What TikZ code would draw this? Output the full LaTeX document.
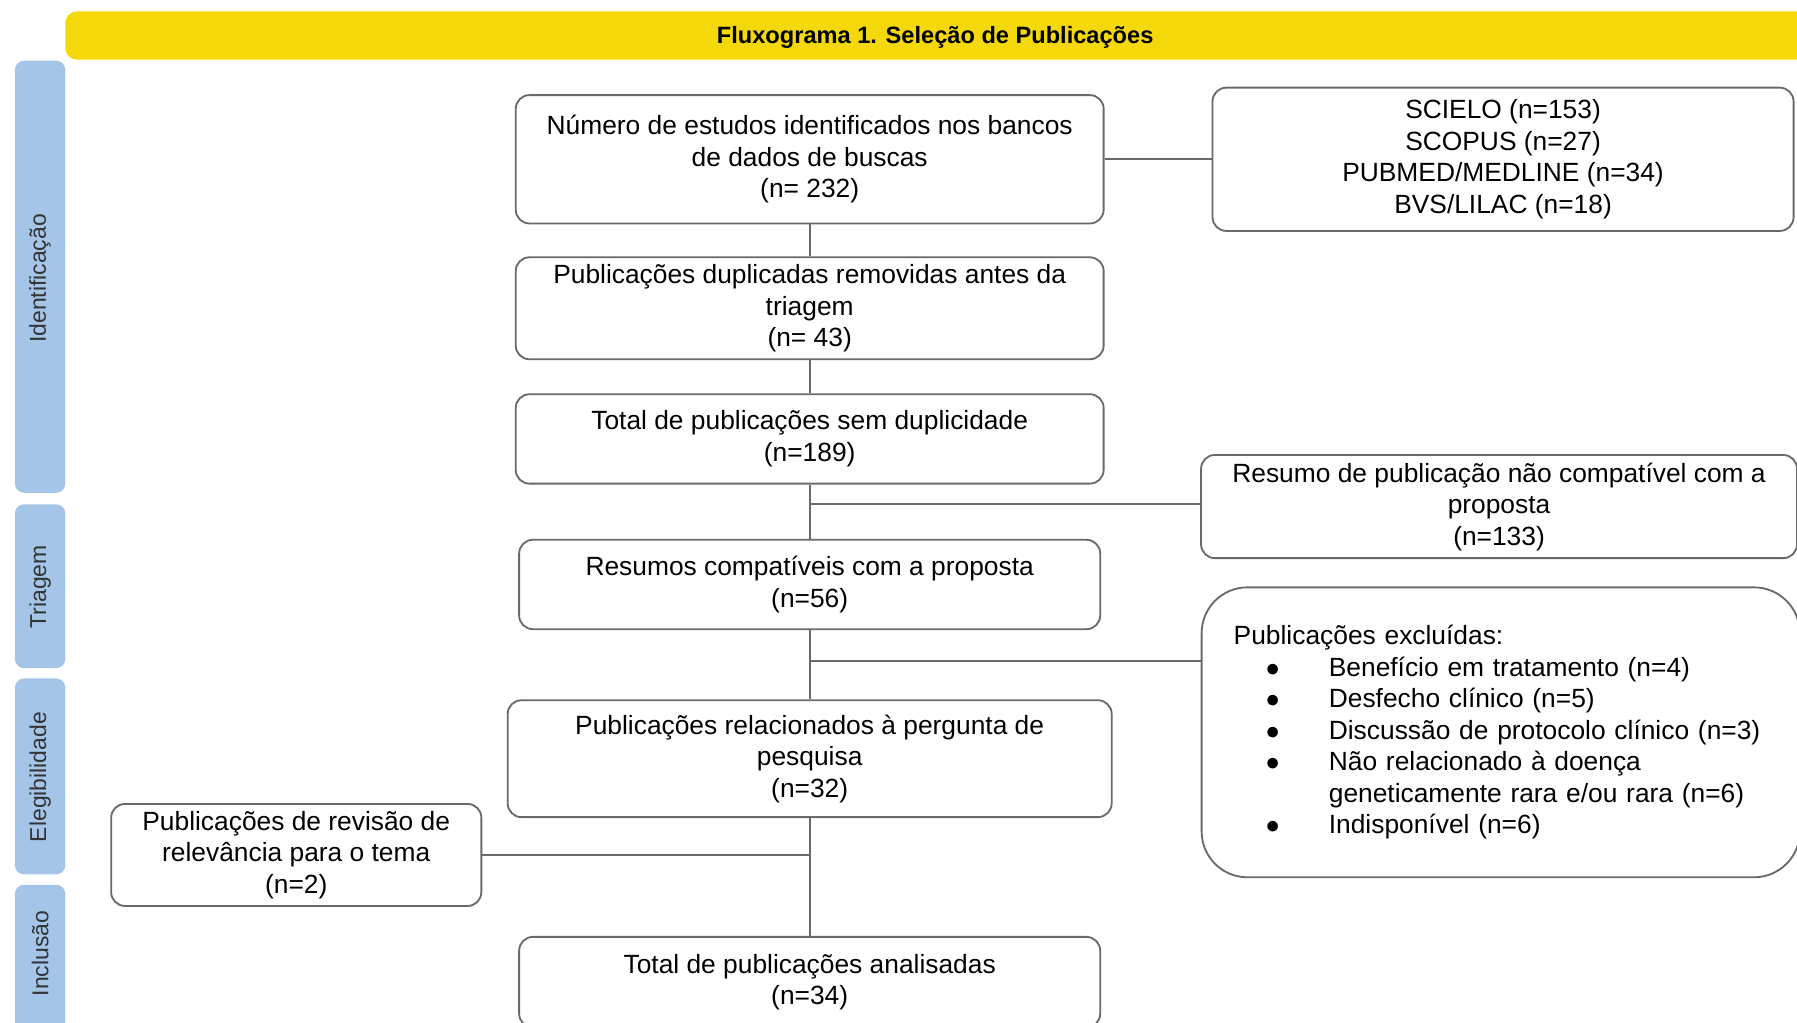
\documentclass[tikz,border=0pt]{standalone}
\usepackage{fontspec}
\setmainfont{Liberation Sans}
\usetikzlibrary{positioning}
\definecolor{barYellow}{RGB}{245,216,10}
\definecolor{tabBlue}{RGB}{164,197,232}
\definecolor{lineGray}{RGB}{105,105,105}

\begin{document}
\begin{tikzpicture}[x=0.5pt,y=-0.5pt,
    box/.style={draw=lineGray,line width=0.8pt,rounded corners=6pt,align=center,inner sep=0pt,
      font=\fontsize{11.5}{13.75}\selectfont},
    tab/.style={fill=tabBlue,rounded corners=4pt},
    tablabel/.style={rotate=90,font=\fontsize{10}{12}\selectfont,text=black!80},
    link/.style={draw=lineGray,line width=0.8pt}]
    \useasboundingbox (0,0) rectangle (1568,892);

    % header and phase tabs
    \fill[barYellow,rounded corners=5pt] (57,10) rectangle (1590,52);
    \node[font=\bfseries\fontsize{10.3}{12}\selectfont] (title) at (816,32.5) {Fluxograma 1. Seleção de Publicações};

    \fill[tab] (13,53) rectangle (57,430);
    \fill[tab] (13,440) rectangle (57,583);
    \fill[tab] (13,592) rectangle (57,763);
    \fill[tab] (13,772) rectangle (57,910);
    \node[tablabel] (idlab) at (35,243) {Identificação};
    \node[tablabel] (trlab) at (35,512) {Triagem};
    \node[tablabel] (ellab) at (35,678) {Elegibilidade};
    \node[tablabel] (inlab) at (35,832) {Inclusão};

    % main column
    \node[box,minimum width=256.5pt,minimum height=56pt] (ident) at (706.5,139) {Número de estudos identificados nos bancos\\de dados de buscas\\(n= 232)};
    \node[box,minimum width=256.5pt,minimum height=44.5pt] (dupl) at (706.5,269) {Publicações duplicadas removidas antes da\\triagem\\(n= 43)};
    \node[box,minimum width=256.5pt,minimum height=39pt] (semdup) at (706.5,383) {Total de publicações sem duplicidade\\(n=189)};
    \node[box,minimum width=253.5pt,minimum height=39pt] (compat) at (706.5,510) {Resumos compatíveis com a proposta\\(n=56)};
    \node[box,minimum width=263.5pt,minimum height=51pt] (relac) at (706.5,662) {Publicações relacionados à pergunta de\\pesquisa\\(n=32)};
    \node[box,minimum width=253.5pt,minimum height=39.5pt] (total) at (706.5,857) {Total de publicações analisadas\\(n=34)};

    % side boxes
    \node[box,minimum width=253.5pt,minimum height=62.5pt] (bases) at (1311.5,139) {SCIELO (n=153)\\SCOPUS (n=27)\\PUBMED/MEDLINE (n=34)\\BVS/LILAC (n=18)};
    \node[box,minimum width=260pt,minimum height=45pt] (naocomp) at (1308,442) {Resumo de publicação não compatível com a\\proposta\\(n=133)};
    \node[box,rounded corners=20pt,align=left,text width=233pt,minimum width=261pt,minimum height=126.5pt] (excl) at (1309.5,639) {Publicações excluídas:\\
      \hspace*{14pt}\makebox[27.5pt][l]{$\bullet$}Benefício em tratamento (n=4)\\
      \hspace*{14pt}\makebox[27.5pt][l]{$\bullet$}Desfecho clínico (n=5)\\
      \hspace*{14pt}\makebox[27.5pt][l]{$\bullet$}Discussão de protocolo clínico (n=3)\\
      \hspace*{14pt}\makebox[27.5pt][l]{$\bullet$}Não relacionado à doença\\
      \hspace*{41.5pt}geneticamente rara e/ou rara (n=6)\\
      \hspace*{14pt}\makebox[27.5pt][l]{$\bullet$}Indisponível (n=6)};
    \node[box,minimum width=161.5pt,minimum height=44.5pt] (revisao) at (258.5,746) {Publicações de revisão de\\relevância para o tema\\(n=2)};

    % connectors
    \coordinate (j1) at (706.5,440);
    \coordinate (j2) at (706.5,577);
    \draw[link] (ident) -- (bases);
    \draw[link] (ident) -- (dupl);
    \draw[link] (dupl) -- (semdup);
    \draw[link] (semdup) -- (compat);
    \draw[link] (j1) -- (j1 -| naocomp.west);
    \draw[link] (compat) -- (relac);
    \draw[link] (j2) -- (j2 -| excl.west);
    \draw[link] (relac) -- (total);
    \draw[link] (revisao.east) -- (revisao.east -| relac.south);
\end{tikzpicture}
\end{document}
